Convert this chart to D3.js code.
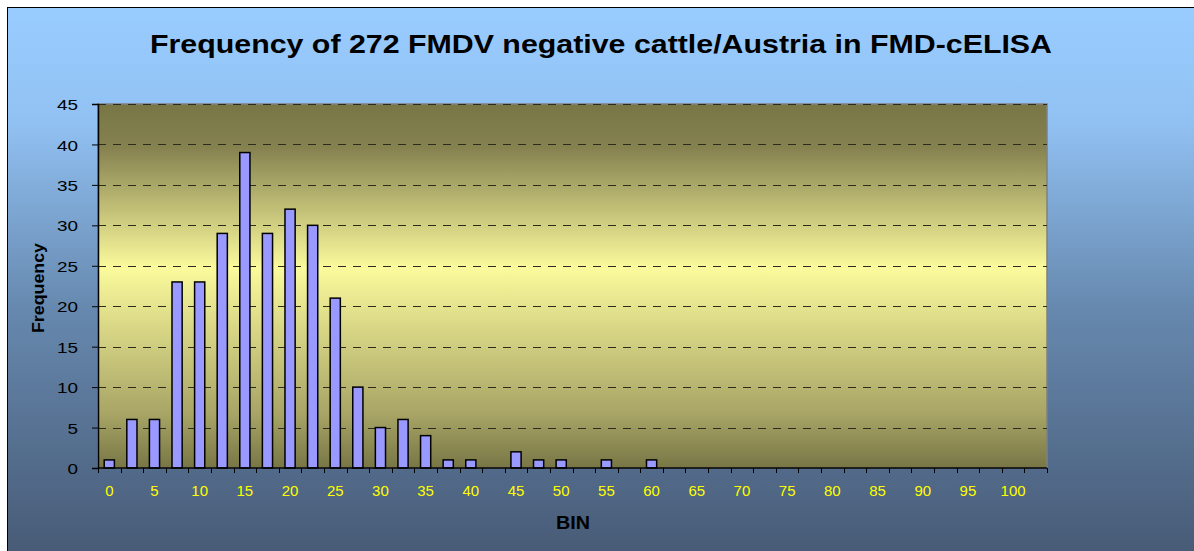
<!DOCTYPE html>
<html>
<head>
<meta charset="utf-8">
<script src="https://cdn.jsdelivr.net/npm/d3@7"></script>
<style>
  body { margin: 0; background: #fff; }
  text { font-family: "Liberation Sans", Arial, sans-serif; }
</style>
</head>
<body>
<svg id="canvas" width="1194" height="551"></svg>
<script>
// bins (2.5 steps), last one is the unlabeled overflow bin
var bins = d3.range(0, 42).map(function(i) { return i * 2.5; });
var frequency = [1, 6, 6, 23, 23, 29, 39, 29, 32, 30, 21, 10, 5, 6, 4, 1, 1, 0, 2, 1, 1, 0, 1, 0, 1,
  0, 0, 0, 0, 0, 0, 0, 0, 0, 0, 0, 0, 0, 0, 0, 0, 0];
var yTicks = [0, 5, 10, 15, 20, 25, 30, 35, 40, 45];
var titleText = "Frequency of 272 FMDV negative cattle/Austria in FMD-cELISA";

var svg = d3.select("#canvas"),
  width = +svg.attr("width"),
  height = +svg.attr("height");

var margin = {left: 98, top: 104, right: 1047, bottom: 468};

var defs = svg.append("defs");

// chart background gradient
var bg = defs.append("linearGradient").attr("id", "bgGrad")
  .attr("x1", 0).attr("y1", 0).attr("x2", 0).attr("y2", 1);
bg.append("stop").attr("offset", "0%").attr("stop-color", "#99ccff");
bg.append("stop").attr("offset", "20%").attr("stop-color", "#92c2f4");
bg.append("stop").attr("offset", "55%").attr("stop-color", "#6688ae");
bg.append("stop").attr("offset", "100%").attr("stop-color", "#475a75");

// plot area gradient
var pg = defs.append("linearGradient").attr("id", "plotGrad")
  .attr("x1", 0).attr("y1", 0).attr("x2", 0).attr("y2", 1);
pg.append("stop").attr("offset", "0%").attr("stop-color", "#787645");
pg.append("stop").attr("offset", "12%").attr("stop-color", "#858250");
pg.append("stop").attr("offset", "45%").attr("stop-color", "#fbfa9c");
pg.append("stop").attr("offset", "85%").attr("stop-color", "#a8a566");
pg.append("stop").attr("offset", "100%").attr("stop-color", "#787645");

svg.append("rect")
  .attr("x", 7.5).attr("y", 7.5)
  .attr("width", width).attr("height", height)
  .attr("fill", "url(#bgGrad)")
  .attr("stroke", "#000").attr("stroke-width", 1);

var x = d3.scaleBand()
  .domain(bins)
  .range([margin.left, margin.right])
  .paddingInner(0.55)
  .paddingOuter(0.275);

var xEdge = d3.scaleLinear()
  .domain([0, bins.length])
  .range([margin.left, margin.right]);

var y = d3.scaleLinear()
  .domain([0, 45])
  .range([margin.bottom, margin.top]);

// plot area
svg.append("rect")
  .attr("x", margin.left).attr("y", margin.top)
  .attr("width", margin.right - margin.left)
  .attr("height", margin.bottom - margin.top)
  .attr("fill", "url(#plotGrad)")
  .attr("stroke", "#808080").attr("stroke-width", 1.5);

// dashed grid lines
svg.append("g").selectAll("line")
  .data(yTicks.filter(function(d) { return d > 0; }))
  .enter().append("line")
  .attr("x1", margin.left).attr("x2", margin.right)
  .attr("y1", function(d) { return Math.round(y(d)) + 0.5; })
  .attr("y2", function(d) { return Math.round(y(d)) + 0.5; })
  .attr("stroke", "#2b2b1e").attr("stroke-width", 1)
  .attr("stroke-dasharray", "8,7");

// bars
svg.append("g").selectAll("rect")
  .data(bins)
  .enter().append("rect")
  .filter(function(d, i) { return frequency[i] > 0; })
  .attr("x", function(d) { return x(d); })
  .attr("width", x.bandwidth())
  .attr("y", function(d) { return y(frequency[bins.indexOf(d)]); })
  .attr("height", function(d) { return margin.bottom - y(frequency[bins.indexOf(d)]); })
  .attr("fill", "#9999ff")
  .attr("stroke", "#000").attr("stroke-width", 1.5);

// y axis (labels are a bit stretched in the original)
var yAxis = svg.append("g")
  .attr("transform", "translate(" + margin.left + ",0)")
  .call(d3.axisLeft(y).tickValues(yTicks).tickSize(6).tickPadding(14));
yAxis.select(".domain").attr("stroke", "#000").attr("stroke-width", 1.5);
yAxis.selectAll(".tick line").attr("stroke", "#000");
yAxis.selectAll("text")
  .attr("fill", "#000")
  .attr("dy", "0.36em")
  .attr("textLength", function(d) { return String(d).length * 10.5; })
  .attr("lengthAdjust", "spacingAndGlyphs")
  .style("font-size", "15.5px")
  .style("font-family", "'Liberation Sans', Arial, sans-serif");

// x axis: ticks on bin edges, labels every 5
var xAxisG = svg.append("g");
xAxisG.append("line")
  .attr("x1", margin.left).attr("x2", margin.right)
  .attr("y1", margin.bottom).attr("y2", margin.bottom)
  .attr("stroke", "#000").attr("stroke-width", 1.5);
xAxisG.selectAll(".xtick")
  .data(d3.range(0, bins.length + 1))
  .enter().append("line")
  .attr("class", "xtick")
  .attr("x1", function(d) { return Math.round(xEdge(d)) + 0.5; })
  .attr("x2", function(d) { return Math.round(xEdge(d)) + 0.5; })
  .attr("y1", margin.bottom).attr("y2", margin.bottom + 5)
  .attr("stroke", "#000");
xAxisG.selectAll(".xlabel")
  .data(bins.filter(function(d) { return d % 5 === 0; }))
  .enter().append("text")
  .attr("class", "xlabel")
  .attr("x", function(d) { return x(d) + x.bandwidth() / 2; })
  .attr("y", 496)
  .attr("text-anchor", "middle")
  .attr("fill", "#ffff00")
  .style("font-size", "15px")
  .text(function(d) { return d; });

// titles
svg.append("text")
  .attr("x", 601).attr("y", 53)
  .attr("text-anchor", "middle")
  .attr("textLength", 902)
  .attr("lengthAdjust", "spacingAndGlyphs")
  .style("font-size", "25px").style("font-weight", "bold")
  .attr("fill", "#000")
  .text(titleText);

svg.append("text")
  .attr("transform", "translate(44,288) rotate(-90)")
  .attr("text-anchor", "middle")
  .attr("textLength", 90)
  .attr("lengthAdjust", "spacingAndGlyphs")
  .style("font-size", "17px").style("font-weight", "bold")
  .attr("fill", "#000")
  .text("Frequency");

svg.append("text")
  .attr("x", 573).attr("y", 529)
  .attr("text-anchor", "middle")
  .attr("textLength", 34)
  .attr("lengthAdjust", "spacingAndGlyphs")
  .style("font-size", "18px").style("font-weight", "bold")
  .attr("fill", "#000")
  .text("BIN");
</script>
</body>
</html>
